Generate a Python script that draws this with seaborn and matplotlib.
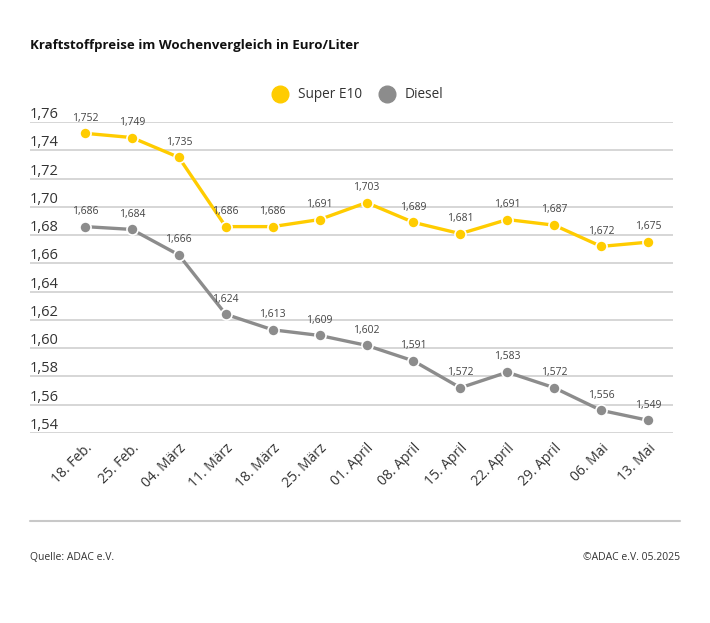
import numpy as np
import pandas as pd
import seaborn as sns
import matplotlib.pyplot as plt
from matplotlib import rcParams
from matplotlib.lines import Line2D
from matplotlib import transforms

weeks = ['18. Feb.', '25. Feb.', '04. März', '11. März', '18. März', '25. März',
         '01. April', '08. April', '15. April', '22. April', '29. April',
         '06. Mai', '13. Mai']
super_e10 = [1.752, 1.749, 1.735, 1.686, 1.686, 1.691, 1.703, 1.689,
             1.681, 1.691, 1.687, 1.672, 1.675]
diesel = [1.686, 1.684, 1.666, 1.624, 1.613, 1.609, 1.602, 1.591,
          1.572, 1.583, 1.572, 1.556, 1.549]
y_ticks = [1.54, 1.56, 1.58, 1.60, 1.62, 1.64, 1.66, 1.68, 1.70, 1.72, 1.74, 1.76]

sns.set_style('white')
rcParams['font.family'] = ['Open Sans', 'DejaVu Sans']

YELLOW = '#FFCC00'
GREY = '#8C8C8C'
TEXT = '#333333'

df = pd.DataFrame({
    'week': weeks * 2,
    'price': super_e10 + diesel,
    'kind': ['Super E10'] * len(weeks) + ['Diesel'] * len(weeks),
})

fig = plt.figure(figsize=(7.1, 6.23), dpi=100)
ax = fig.add_axes([30 / 710, 1 - 433 / 623, (673 - 30) / 710, (433 - 122) / 623])

sns.lineplot(data=df, x='week', y='price', hue='kind',
             palette={'Super E10': YELLOW, 'Diesel': GREY},
             marker='o', markersize=8, markeredgecolor='white',
             markeredgewidth=1.2, linewidth=2.4, legend=False, ax=ax,
             zorder=3)

# value labels
for vals in (super_e10, diesel):
    for i, v in enumerate(vals):
        ax.annotate(f'{v:.3f}'.replace('.', ','), (i, v),
                    xytext=(0, 7), textcoords='offset points',
                    ha='center', va='bottom', fontsize=7.5, color='#444444')

ax.set_xlim(-1.17, 12.53)
ax.set_ylim(1.54, 1.76)
ax.set_yticks(y_ticks)
ax.yaxis.grid(True, color='#cfcfcf', linewidth=1.2)
ax.xaxis.grid(False)
ax.tick_params(axis='y', left=False, labelleft=False)
ax.tick_params(axis='x', bottom=False, pad=2)
for s in ax.spines.values():
    s.set_visible(False)

# y labels sit above each gridline, inside the plot
trans = transforms.blended_transform_factory(ax.transAxes, ax.transData)
for t in y_ticks:
    ax.text(0, t, f'{t:.2f}'.replace('.', ','), transform=trans,
            ha='left', va='bottom', fontsize=10.5, color=TEXT)

ax.set_xticks(range(len(weeks)))
ax.set_xticklabels(weeks, rotation=45, ha='right', rotation_mode='anchor',
                   fontsize=10, color=TEXT)
ax.set_xlabel('')
ax.set_ylabel('')

fig.text(30 / 710, 1 - 45 / 623, 'Kraftstoffpreise im Wochenvergleich in Euro/Liter',
         ha='left', va='center', fontsize=9.5, fontweight='bold', color='#111111')

handles = [Line2D([], [], marker='o', linestyle='', color=YELLOW, markersize=12),
           Line2D([], [], marker='o', linestyle='', color=GREY, markersize=12)]
fig.legend(handles, ['Super E10', 'Diesel'], loc='center',
           bbox_to_anchor=(355 / 710, 1 - 95 / 623), ncol=2, frameon=False,
           fontsize=9.8, handletextpad=0.3, columnspacing=0.8,
           labelcolor=TEXT)

fig.add_artist(Line2D([30 / 710, 680 / 710], [1 - 521 / 623, 1 - 521 / 623],
                      color='#c8c8c8', linewidth=1.5))
fig.text(30 / 710, 1 - 557 / 623, 'Quelle: ADAC e.V.', ha='left', va='center',
         fontsize=7.5, color=TEXT)
fig.text(680 / 710, 1 - 557 / 623, '©ADAC e.V. 05.2025', ha='right', va='center',
         fontsize=7.5, color=TEXT)

fig.savefig('out.png', dpi=100, facecolor='white')
